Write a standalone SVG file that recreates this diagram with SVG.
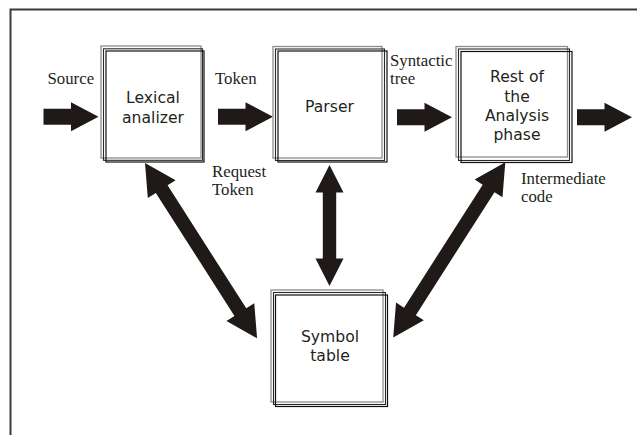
<svg xmlns="http://www.w3.org/2000/svg" xmlns:xlink="http://www.w3.org/1999/xlink" width="637" height="435" viewBox="0 0 637 435">
  <style>
    .frame { fill: none; stroke: #3a3a3a; stroke-width: 2; }
    .b1 { fill: none; stroke: #8c8c8c; stroke-width: 1.3; }
    .b2 { fill: none; stroke: #2a2a2a; stroke-width: 1.1; }
    .b3 { fill: none; stroke: #111; stroke-width: 1.2; }
    .bg { fill: #fff; }
    .box-text { font-family: "DejaVu Sans", Verdana, sans-serif; font-size: 15.6px; fill: #231f20; text-anchor: middle; }
    .label { font-family: "Liberation Serif", "Times New Roman", serif; font-size: 16.8px; fill: #231f20; }
    .arrow { fill: #1f1a17; }
  </style>
  <defs>
    <!-- single block arrow, pointing right, origin at the tail centre -->
    <path id="harrow" d="M0,-8 H27.5 V-14.5 L55,0 L27.5,14.5 V8 H0 Z"/>
    <!-- double-headed block arrow along +x, length 208 -->
    <path id="darrow" d="M0,0 L31,-16.5 L31,-7 L177,-7 L177,-16.5 L208,0 L177,16.5 L177,7 L31,7 L31,16.5 Z"/>
  </defs>

  <rect width="637" height="435" fill="#fff"/>
  <!-- page frame -->
  <path class="frame" d="M10.5,435 V9.5 H637"/>

  <g id="connectors" class="arrow">
    <use xlink:href="#harrow" transform="translate(43.5,116.8)"/>
    <use xlink:href="#harrow" transform="translate(218,116.8)"/>
    <use xlink:href="#harrow" transform="translate(397,117.2)"/>
    <use xlink:href="#harrow" transform="translate(577,117.2)"/>
    <path d="M329.5,165 L343.5,192.5 L336.2,192.5 L336.2,258.5 L343.5,258.5 L329.5,286 L315.5,258.5 L322.8,258.5 L322.8,192.5 L315.5,192.5 Z"/>
    <use xlink:href="#darrow" transform="translate(145,163) rotate(57.4)"/>
    <use xlink:href="#darrow" transform="translate(505.3,162.3) rotate(122.6)"/>
  </g>

  <g id="lexical">
    <rect class="bg" x="101" y="46" width="100" height="112"/>
    <rect class="b1" x="101" y="46" width="100" height="112"/>
    <rect class="b2" x="103.5" y="48.8" width="99" height="111.5"/>
    <rect class="b3" x="106" y="51" width="98" height="111"/>
    <text class="box-text" x="153" y="103">Lexical</text>
    <text class="box-text" x="153" y="122.6">analizer</text>
  </g>

  <g id="parser">
    <rect class="b1" x="273" y="46.5" width="109" height="111.5"/>
    <rect class="b2" x="275.5" y="49" width="109" height="111.5"/>
    <rect class="b3" x="278" y="51" width="109" height="111"/>
    <text class="box-text" x="329.5" y="112">Parser</text>
  </g>

  <g id="rest">
    <rect class="b1" x="456" y="46.5" width="111.5" height="110.5"/>
    <rect class="b2" x="458.5" y="49" width="111" height="111.5"/>
    <rect class="b3" x="461" y="51.5" width="111" height="111"/>
    <text class="box-text" x="517" y="82">Rest of</text>
    <text class="box-text" x="517" y="101.5">the</text>
    <text class="box-text" x="517" y="120.5">Analysis</text>
    <text class="box-text" x="517" y="139.5">phase</text>
  </g>

  <g id="symbol">
    <rect class="b1" x="271" y="290" width="112" height="112"/>
    <rect class="b2" x="273.5" y="292.5" width="112" height="112"/>
    <rect class="b3" x="275.5" y="295" width="112" height="111.5"/>
    <text class="box-text" x="330" y="341.7">Symbol</text>
    <text class="box-text" x="330" y="360.8">table</text>
  </g>

  <g id="labels">
    <text class="label" x="47.5" y="84.3">Source</text>
    <text class="label" x="215" y="84.3">Token</text>
    <text class="label" x="212" y="176.5">Request</text>
    <text class="label" x="212" y="194.5">Token</text>
    <text class="label" x="390" y="65.5">Syntactic</text>
    <text class="label" x="390" y="84.3">tree</text>
    <text class="label" x="521" y="184">Intermediate</text>
    <text class="label" x="521" y="202">code</text>
  </g>
</svg>
